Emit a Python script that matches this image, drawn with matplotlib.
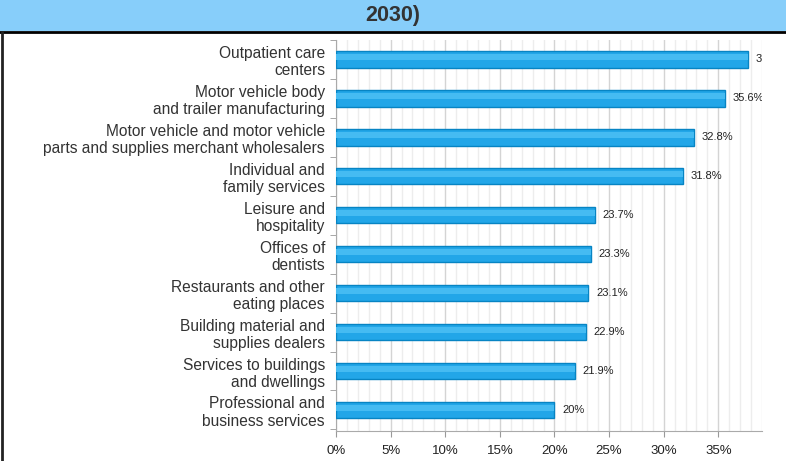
import numpy as np
import matplotlib.pyplot as plt
from matplotlib.ticker import MultipleLocator, FuncFormatter

plt.rcParams['font.family'] = ['Liberation Sans', 'DejaVu Sans']

# chart data
industries = ['Outpatient care\ncenters',
              'Motor vehicle body\nand trailer manufacturing',
              'Motor vehicle and motor vehicle\nparts and supplies merchant wholesalers',
              'Individual and\nfamily services',
              'Leisure and\nhospitality',
              'Offices of\ndentists',
              'Restaurants and other\neating places',
              'Building material and\nsupplies dealers',
              'Services to buildings\nand dwellings',
              'Professional and\nbusiness services']
growth = [37.7, 35.6, 32.8, 31.8, 23.7, 23.3, 23.1, 22.9, 21.9, 20.0]
value_labels = ['37.7%', '35.6%', '32.8%', '31.8%', '23.7%', '23.3%', '23.1%', '22.9%', '21.9%', '20%']
title = '2030)'

fig = plt.figure(figsize=(7.86, 4.61), dpi=100)
fig.patch.set_facecolor('white')

# header band
fig.patches.append(plt.Rectangle((0, 1 - 31/461), 1, 31/461, transform=fig.transFigure,
                                 facecolor='#87CEFA', edgecolor='none', zorder=0))
fig.lines.append(plt.Line2D([0, 1], [1 - 32/461, 1 - 32/461], transform=fig.transFigure,
                            color='black', lw=2))
fig.lines.append(plt.Line2D([0.002, 0.002], [0, 1 - 32/461], transform=fig.transFigure,
                            color='#222222', lw=2))
fig.text(0.5, 1 - 15/461, title, ha='center', va='center', fontsize=15.5,
         fontweight='bold', color='#333333')

ax = fig.add_axes([336/786, 1 - 431/461, (762 - 336)/786, (431 - 40)/461])
y = np.arange(len(industries))
ax.barh(y, growth, height=0.42, color='#22A6E8', edgecolor='#0784C3', lw=1, zorder=3)
# soft highlight on upper half of bars
ax.barh(y - 0.06, growth, height=0.16, color='#45BBF2', edgecolor='none', zorder=4)

for yi, v, lab in zip(y, growth, value_labels):
    ax.text(v + 0.7, yi, lab, va='center', ha='left', fontsize=8, color='#222222',
            clip_on=True, zorder=5)

ax.set_xlim(0, 39)
ax.set_ylim(len(industries) - 0.46, -0.46)
ax.xaxis.set_major_locator(MultipleLocator(5))
ax.xaxis.set_minor_locator(MultipleLocator(1))
ax.xaxis.set_major_formatter(FuncFormatter(lambda v, p: '%d%%' % v))
ax.grid(axis='x', which='major', color='#D4D4D4', lw=1, zorder=0)
ax.grid(axis='x', which='minor', color='#EDEDED', lw=1, zorder=0)

ax.set_yticks(y)
ax.set_yticklabels(industries, fontsize=11.2, color='#333333', linespacing=1.2)
for t in ax.get_yticklabels():
    t.set_multialignment('right')
ax.set_yticks(np.arange(-0.5, len(industries)), minor=True)
ax.tick_params(axis='y', which='major', length=0, pad=8)
ax.tick_params(axis='y', which='minor', length=4, color='#999999')
ax.tick_params(axis='x', which='major', length=4, color='#999999', labelsize=9.5,
               labelcolor='#222222', pad=6)
ax.tick_params(axis='x', which='minor', length=0)

for s in ['top', 'right']:
    ax.spines[s].set_visible(False)
for s in ['left', 'bottom']:
    ax.spines[s].set_color('#AAAAAA')
ax.set_axisbelow(True)

plt.savefig('out.png', dpi=100)
